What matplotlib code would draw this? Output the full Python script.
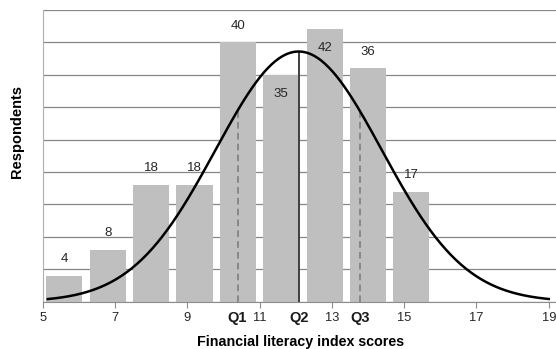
import numpy as np
import matplotlib
matplotlib.use("Agg")
import matplotlib.pyplot as plt

plt.rcParams['font.family'] = ['Liberation Sans', 'DejaVu Sans']

# Respondent counts per score group (bars, left to right)
counts = [4, 8, 18, 18, 40, 35, 42, 36, 17]
# Whether the count label sits inside the bar top (to keep clear of the curve)
label_inside = [False, False, False, False, False, True, True, False, False]

# Fitted normal curve and quartiles of the index scores
curve_mean = 12.08
curve_sd = 2.30
curve_peak = 38.6
q1, q2, q3 = 10.39, 12.08, 13.78
curve_start, curve_end = 5.14, 19.0

x_ticks = [5, 7, 9, 11, 13, 15, 17, 19]

fig = plt.figure(figsize=(5.56, 3.49), dpi=100)
ax = fig.add_axes([0.0768, 0.1355, 0.9232, 0.8358])

# bars sit on a category band of 1.2 score units starting at 5
band = 1.2
centers = [5 + band * (i + 0.5) for i in range(len(counts))]
ax.bar(centers, counts, width=1.0, color='#bfbfbf', zorder=2)

for c, v, inside in zip(centers, counts, label_inside):
    y = v - 2.9 if inside else v + 2.6
    ax.text(c, y, str(v), ha='center', va='center', fontsize=9.5, color='#262626', zorder=5)

def normal_curve(x):
    return curve_peak * np.exp(-((x - curve_mean) ** 2) / (2 * curve_sd ** 2))

xs = np.linspace(curve_start, curve_end, 400)
ax.plot(xs, normal_curve(xs), color='black', lw=1.8, zorder=4)

# quartile markers up to the curve
ax.vlines([q1, q3], 0, [normal_curve(q1), normal_curve(q3)], colors='#7f7f7f',
          linestyles=(0, (4, 2.5)), lw=1.2, zorder=3)
ax.vlines(q2, 0, normal_curve(q2), colors='#404040', lw=1.4, zorder=3)

ax.set_xlim(5, 19.2)
ax.set_ylim(0, 45)
ax.set_yticks(np.arange(0, 46, 5))
ax.set_yticklabels([])
ax.tick_params(axis='y', length=0)
ax.yaxis.grid(True, color='#878787', lw=0.9, zorder=0)
ax.set_axisbelow(True)

ax.set_xticks(x_ticks)
ax.set_xticklabels([str(t) for t in x_ticks], fontsize=9.3, color='#262626')
ax.tick_params(axis='x', length=4, width=0.8, color='#8c8c8c', pad=3.5)

for name, q in (('Q1', q1), ('Q2', q2), ('Q3', q3)):
    ax.text(q, -0.057, name, transform=ax.get_xaxis_transform(), ha='center', va='center',
            fontsize=10.5, fontweight='bold', color='#1a1a1a')

for s in ('top', 'right'):
    ax.spines[s].set_visible(False)
ax.spines['left'].set_color('#b0b0b0')
ax.spines['bottom'].set_color('#8c8c8c')

ax.set_xlabel('Financial literacy index scores', fontsize=10.3, fontweight='bold', va='center')
ax.xaxis.set_label_coords(0.502, -0.137)
ax.set_ylabel('Respondents', fontsize=10.5, fontweight='bold', va='center')
ax.yaxis.set_label_coords(-0.051, 0.585)

fig.savefig('out.png', dpi=100)
